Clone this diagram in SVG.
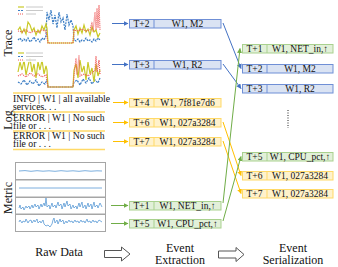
<svg xmlns="http://www.w3.org/2000/svg" width="338" height="267" viewBox="0 0 338 267" font-family="'Liberation Serif','Times New Roman',serif">
<style>
text{font-family:"Liberation Serif","Times New Roman",serif;fill:#111}
.bt{font-size:9.5px;text-anchor:middle}
.lbl{font-size:12px;text-anchor:middle}
.log{font-size:9.7px}
.bb{fill:#dae3f3;stroke:#6f8fd6;stroke-width:1}
.yb{fill:#fff2cc;stroke:#ffd966;stroke-width:1}
.gb{fill:#e2f0d9;stroke:#a9d18e;stroke-width:1}
.bl{stroke:#4472c4;stroke-width:1;fill:none}
.yl{stroke:#ffc000;stroke-width:1;fill:none}
.gl{stroke:#70ad47;stroke-width:1;fill:none}
.cy{stroke:#c9c927;stroke-width:1.2;fill:none}
.cb{stroke:#3b7dc4;stroke-width:1.2;fill:none;stroke-dasharray:2 1}
.cr{stroke:#ee5555;stroke-width:1.2;fill:none;stroke-dasharray:1 1}
.mp{fill:#fff;stroke:#a6a6a6;stroke-width:1}
.ml{stroke:#5b9bd5;stroke-width:0.8;fill:none}
.sep{stroke:#ffd966;stroke-width:1.5}
.hol{fill:#fff;stroke:#555;stroke-width:1}
.leg{stroke:#c8c8c8;stroke-width:1}
</style>
<defs>
<marker id="ab" viewBox="0 0 10 10" refX="9" refY="5" markerWidth="5" markerHeight="5" markerUnits="userSpaceOnUse" orient="auto"><path d="M0,0L10,5L0,10Z" fill="#4472c4"/></marker>
<marker id="ay" viewBox="0 0 10 10" refX="9" refY="5" markerWidth="5" markerHeight="5" markerUnits="userSpaceOnUse" orient="auto"><path d="M0,0L10,5L0,10Z" fill="#ffc000"/></marker>
<marker id="ag" viewBox="0 0 10 10" refX="9" refY="5" markerWidth="5" markerHeight="5" markerUnits="userSpaceOnUse" orient="auto"><path d="M0,0L10,5L0,10Z" fill="#70ad47"/></marker>
</defs>

<g id="raw-trace">
<text class="lbl" transform="translate(12,43) rotate(-90)">Trace</text>
<g id="trace-chart-1">
<polyline class="cb" points="18,40 20,38 22,41 24,39 26,41 28,38 30,42 32,40 34,37 36,41 38,39 40,42 42,38 44,40 46,36 47,12 49,20 51,10 53,24 55,15 57,28 59,12 61,22 63,18 65,30 67,14 69,25 71,20 73,26 74,40 76,41 78,39 80,42 82,40 84,41 86,38 88,41 90,40 92,42 94,39 96,41 98,38 100,40"/>
<polyline class="cy" points="18,30 20,27 22,33 24,29 26,34 28,22 30,25 32,31 34,28 36,35 38,30 40,33 42,26 44,30 46,24 47,28 48,43 73,43 74,30 76,26 78,34 80,28 82,33 84,25 86,32 88,29 90,35 92,27 94,32 96,30 98,37 100,33"/>
<polyline class="cr" points="18,31 22,32 26,30 30,33 34,31 38,32 42,30 46,31 48,43 73,43 74,30 78,31 82,29 86,31 90,30 92,22 93,32 95,12 96,30 97,8 98,28 99,5 100,30"/>
<rect x="17" y="5" width="28" height="11" fill="#fff" opacity="0.85"/>
<line x1="18" y1="7" x2="24" y2="7" class="cy"/><line x1="26" y1="7" x2="43" y2="7" class="leg"/>
<line x1="18" y1="10.5" x2="24" y2="10.5" class="cb"/><line x1="26" y1="10.5" x2="43" y2="10.5" class="leg"/>
<line x1="18" y1="14" x2="24" y2="14" class="cr"/><line x1="26" y1="14" x2="36" y2="14" class="leg"/>
</g>
<g id="trace-chart-2">
<polyline class="cb" points="18,82 21,84 24,80 27,85 30,81 33,84 36,80 39,86 42,82 45,84 47,80 48,87 73,87 74,82 77,80 80,85 83,79 86,83 89,78 92,84 95,80 98,83 100,78"/>
<polyline class="cy" points="18,72 20,62 22,70 24,60 26,75 28,66 30,58 32,72 34,64 36,78 38,62 40,70 42,60 44,74 46,66 47,70 48,87 73,87 74,70 76,64 78,78 80,60 82,72 84,66 86,80 88,62 90,74 92,68 94,82 96,64 98,76 100,70"/>
<polyline class="cr" points="18,76 22,74 26,77 30,73 34,76 38,74 42,77 46,75 48,87 73,87 74,76 76,58 77,75 79,55 80,76 84,74 88,76 92,73 95,70 96,56 97,72 99,60 100,74"/>
<rect x="17" y="51" width="28" height="11" fill="#fff" opacity="0.85"/>
<line x1="18" y1="53" x2="24" y2="53" class="cy"/><line x1="26" y1="53" x2="43" y2="53" class="leg"/>
<line x1="18" y1="56.5" x2="24" y2="56.5" class="cb"/><line x1="26" y1="56.5" x2="43" y2="56.5" class="leg"/>
<line x1="18" y1="60" x2="24" y2="60" class="cr"/><line x1="26" y1="60" x2="36" y2="60" class="leg"/>
</g>
</g>

<g id="raw-log">
<text class="lbl" transform="translate(12,120) rotate(-90)">Log</text>
<line class="sep" x1="13" y1="93" x2="105" y2="93"/>
<line class="sep" x1="13" y1="112" x2="105" y2="112"/>
<line class="sep" x1="13" y1="131" x2="105" y2="131"/>
<line class="sep" x1="13" y1="149.5" x2="105" y2="149.5"/>
<text class="log" x="13" y="101.5">INFO | W1 | all available<tspan x="13" dy="8">services. . .</tspan></text>
<text class="log" x="13" y="120.5">ERROR | W1 | No such<tspan x="13" dy="8">file or . . .</tspan></text>
<text class="log" x="13" y="139">ERROR | W1 | No such<tspan x="13" dy="8">file or . . .</tspan></text>
</g>

<g id="raw-metric">
<text class="lbl" transform="translate(12,198) rotate(-90)">Metric</text>
<rect class="mp" x="15.5" y="162.5" width="90" height="17"/>
<rect class="mp" x="15.5" y="180" width="90" height="17"/>
<rect class="mp" x="15.5" y="197.5" width="90" height="16.5"/>
<rect class="mp" x="15.5" y="214.5" width="90" height="17"/>
<polyline class="ml" points="19,171 25,170.6 31,171.3 37,170.7 43,171.2 49,170.8 55,171.3 61,170.7 67,171.2 73,170.8 79,171.3 85,170.7 91,171.2 97,170.8 102,171"/>
<line class="ml" x1="19" y1="188" x2="102" y2="188"/>
<polyline class="ml" points="19,208 20,205 21,209 23,207 24,210 26,206 27,208 29,206 30,209 32,205 33,208 35,204 36,207 38,205 39,209 41,204 42,207 44,203 45,206 46,198 47,207 49,205 50,209 52,203 53,207 55,205 56,208 58,202 59,206 61,204 62,209 64,203 65,207 67,201 68,206 70,204 71,209 73,205 74,208 76,206 77,209 79,203 80,207 82,202 83,208 85,205 86,209 88,203 89,207 91,204 92,209 94,202 95,207 97,205 98,208 100,203 102,207"/>
<polyline class="ml" points="19,222 20,220 22,223 23,221 25,222 26,219 28,223 29,221 31,220 32,223 34,220 35,222 37,219 38,223 40,221 41,223 43,220 44,224 46,226 48,225 50,227 52,224 53,220 54,218 55,223 57,220 58,224 60,219 61,222 63,220 64,224 66,221 67,223 69,220 70,222 72,221 73,223 75,220 76,222 78,221 79,223 81,220 82,222 84,221 85,223 87,219 88,222 90,221 91,223 93,220 94,222 96,221 97,223 99,220 102,222"/>
</g>

<g id="connectors">
<line class="bl" x1="112" y1="23.5" x2="128" y2="23.5" marker-end="url(#ab)"/>
<line class="bl" x1="112" y1="64.5" x2="128" y2="64.5" marker-end="url(#ab)"/>
<line class="yl" x1="113" y1="102.5" x2="128" y2="102.5" marker-end="url(#ay)"/>
<line class="yl" x1="113" y1="122.5" x2="128" y2="122.5" marker-end="url(#ay)"/>
<line class="yl" x1="113" y1="141.5" x2="128" y2="141.5" marker-end="url(#ay)"/>
<line class="gl" x1="111" y1="205.5" x2="128" y2="205.5" marker-end="url(#ag)"/>
<line class="gl" x1="111" y1="223.5" x2="128" y2="223.5" marker-end="url(#ag)"/>
<line class="bl" x1="223" y1="23" x2="241" y2="68.5" marker-end="url(#ab)"/>
<line class="bl" x1="223" y1="64" x2="241" y2="88.5" marker-end="url(#ab)"/>
<line class="yl" x1="223" y1="122" x2="241" y2="175.5" marker-end="url(#ay)"/>
<line class="yl" x1="223" y1="141" x2="241" y2="193.5" marker-end="url(#ay)"/>
<line class="gl" x1="223" y1="203" x2="240" y2="48.5" marker-end="url(#ag)"/>
<line class="gl" x1="223" y1="221" x2="241" y2="156.5" marker-end="url(#ag)"/>
</g>

<g id="ext-t2"><rect class="bb" x="129.5" y="19.5" width="91.5" height="8.5"/><line class="bb" x1="154" y1="19.5" x2="154" y2="28"/><text class="bt" x="141.5" y="27">T+2</text><text class="bt" x="187.5" y="27">W1, M2</text></g>
<g id="ext-t3"><rect class="bb" x="129.5" y="60.5" width="91.5" height="8.5"/><line class="bb" x1="154" y1="60.5" x2="154" y2="69"/><text class="bt" x="141.5" y="68">T+3</text><text class="bt" x="187.5" y="68">W1, R2</text></g>
<g id="ext-t4"><rect class="yb" x="129.5" y="98.5" width="91.5" height="8.5"/><line class="yb" x1="154" y1="98.5" x2="154" y2="107"/><text class="bt" x="141.5" y="106">T+4</text><text class="bt" x="187.5" y="106">W1, 7f81e7d6</text></g>
<g id="ext-t6"><rect class="yb" x="129.5" y="118.5" width="91.5" height="8.5"/><line class="yb" x1="154" y1="118.5" x2="154" y2="127"/><text class="bt" x="141.5" y="126">T+6</text><text class="bt" x="187.5" y="126">W1, 027a3284</text></g>
<g id="ext-t7"><rect class="yb" x="129.5" y="137.5" width="91.5" height="8.5"/><line class="yb" x1="154" y1="137.5" x2="154" y2="146"/><text class="bt" x="141.5" y="145">T+7</text><text class="bt" x="187.5" y="145">W1, 027a3284</text></g>
<g id="ext-t1"><rect class="gb" x="129.5" y="201.5" width="91.5" height="8.5"/><line class="gb" x1="154" y1="201.5" x2="154" y2="210"/><text class="bt" x="141.5" y="209">T+1</text><text class="bt" x="187.5" y="209">W1, NET_in,↑</text></g>
<g id="ext-t5"><rect class="gb" x="129.5" y="219.5" width="91.5" height="8.5"/><line class="gb" x1="154" y1="219.5" x2="154" y2="228"/><text class="bt" x="141.5" y="227">T+5</text><text class="bt" x="187.5" y="227">W1, CPU_pct,↑</text></g>

<g id="ser-t1"><rect class="gb" x="242.5" y="44.5" width="90.5" height="8.5"/><line class="gb" x1="267" y1="44.5" x2="267" y2="53"/><text class="bt" x="254.5" y="52">T+1</text><text class="bt" x="300" y="52">W1, NET_in,↑</text></g>
<g id="ser-t2"><rect class="bb" x="242.5" y="64.5" width="90.5" height="8.5"/><line class="bb" x1="267" y1="64.5" x2="267" y2="73"/><text class="bt" x="254.5" y="72">T+2</text><text class="bt" x="300" y="72">W1, M2</text></g>
<g id="ser-t3"><rect class="bb" x="242.5" y="84.5" width="90.5" height="8.5"/><line class="bb" x1="267" y1="84.5" x2="267" y2="93"/><text class="bt" x="254.5" y="92">T+3</text><text class="bt" x="300" y="92">W1, R2</text></g>
<line x1="288" y1="110" x2="288" y2="128" stroke="#222" stroke-width="1" stroke-dasharray="1 1.5"/>
<g id="ser-t5"><rect class="gb" x="242.5" y="152.5" width="90.5" height="8.5"/><line class="gb" x1="267" y1="152.5" x2="267" y2="161"/><text class="bt" x="254.5" y="160">T+5</text><text class="bt" x="300" y="160">W1, CPU_pct,↑</text></g>
<g id="ser-t6"><rect class="yb" x="242.5" y="171.5" width="90.5" height="8.5"/><line class="yb" x1="267" y1="171.5" x2="267" y2="180"/><text class="bt" x="254.5" y="179">T+6</text><text class="bt" x="300" y="179">W1, 027a3284</text></g>
<g id="ser-t7"><rect class="yb" x="242.5" y="189.5" width="90.5" height="8.5"/><line class="yb" x1="267" y1="189.5" x2="267" y2="198"/><text class="bt" x="254.5" y="197">T+7</text><text class="bt" x="300" y="197">W1, 027a3284</text></g>

<g id="stages">
<text class="lbl" x="59" y="256">Raw Data</text>
<path class="hol" d="M104.5,250.5H121.5V247L130,254L121.5,261V257.5H104.5Z"/>
<text class="lbl" x="180" y="252">Event</text>
<text class="lbl" x="180" y="263.5">Extraction</text>
<path class="hol" d="M218.5,251H236V247.5L244,254.5L236,261.5V258H218.5Z"/>
<text class="lbl" x="293" y="252">Event</text>
<text class="lbl" x="293" y="264">Serialization</text>
</g>
</svg>
